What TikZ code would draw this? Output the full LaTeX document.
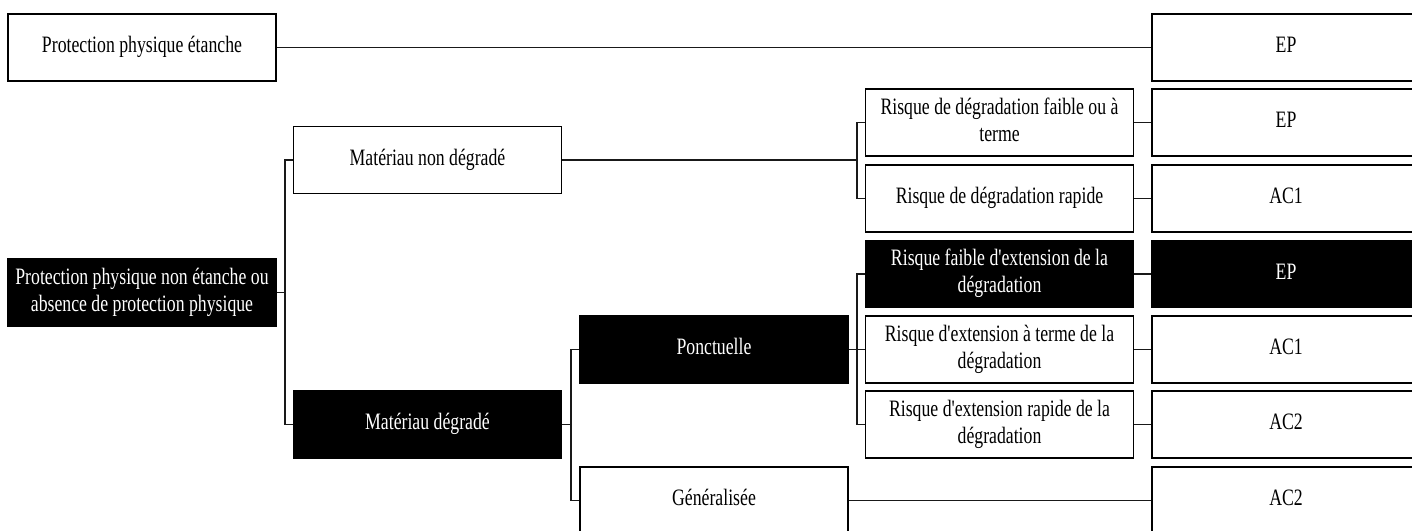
\documentclass[tikz,border=0pt]{standalone}
\usepackage{fontspec}
\setmainfont{Liberation Serif}
\newcommand\boxtxt[1]{\scalebox{0.755}[1]{\begin{tabular}{@{}c@{}}#1\end{tabular}}}
\newcommand\apos{\textquotesingle}
\begin{document}
\begin{tikzpicture}[x=1pt,y=-1pt,
  box/.style={draw=black,line width=1.3pt,fill=white,minimum width=268pt,minimum height=67pt,
    inner sep=0pt,font=\fontsize{23.5pt}{27pt}\selectfont},
  dark/.style={box,fill=black,text=white},
  link/.style={line width=1.3pt,draw=black!90}]
\useasboundingbox (0,0) rectangle (1412,530);
\clip (0,0) rectangle (1412,530);
% column 0
\node[box]  (A) at (142,47.5) {\boxtxt{Protection physique étanche}};
\node[dark] (B) at (142,292.5) {\boxtxt{Protection physique non étanche ou\\absence de protection physique}};
% column 1
\node[box]  (MND) at (427.5,160) {\boxtxt{Matériau non dégradé}};
\node[dark] (MD)  at (427.5,424.5) {\boxtxt{Matériau dégradé}};
% column 2
\node[dark] (PON) at (714,349.5) {\boxtxt{Ponctuelle}};
\node[box]  (GEN) at (714,500.5) {\boxtxt{Généralisée}};
% column 3
\node[box]  (R1) at (999.5,122.5) {\boxtxt{Risque de dégradation faible ou à\\terme}};
\node[box]  (R2) at (999.5,198.5) {\boxtxt{Risque de dégradation rapide}};
\node[dark] (R3) at (999.5,274) {\boxtxt{Risque faible d\apos{}extension de la\\dégradation}};
\node[box]  (R4) at (999.5,349.5) {\boxtxt{Risque d\apos{}extension à terme de la\\dégradation}};
\node[box]  (R5) at (999.5,424.5) {\boxtxt{Risque d\apos{}extension rapide de la\\dégradation}};
% column 4
\node[box]  (E0) at (1286,47.5) {\boxtxt{EP}};
\node[box]  (E1) at (1286,122.5) {\boxtxt{EP}};
\node[box]  (E2) at (1286,198.5) {\boxtxt{AC1}};
\node[dark] (E3) at (1286,274) {\boxtxt{EP}};
\node[box]  (E4) at (1286,349.5) {\boxtxt{AC1}};
\node[box]  (E5) at (1286,424.5) {\boxtxt{AC2}};
\node[box]  (E6) at (1286,500.5) {\boxtxt{AC2}};
% junction points
\coordinate (t1) at (285,292.5);
\coordinate (t2) at (857,160);
\coordinate (t3) at (571,424.5);
\coordinate (t4) at (857,349.5);
% connectors
\draw[link] (A.east) -- (E0.west);
\draw[link] (B.east) -- (t1);
\draw[link] (MND.west) -| (t1) |- (MD.west);
\draw[link] (MND.east) -- (t2);
\draw[link] (R1.west) -| (t2) |- (R2.west);
\draw[link] (MD.east) -- (t3);
\draw[link] (PON.west) -| (t3) |- (GEN.west);
\draw[link] (PON.east) -- (t4);
\draw[link] (R3.west) -| (t4) |- (R5.west);
\draw[link] (R4.west) -- (t4);
\draw[link] (R1.east) -- (E1.west);
\draw[link] (R2.east) -- (E2.west);
\draw[link] (R3.east) -- (E3.west);
\draw[link] (R4.east) -- (E4.west);
\draw[link] (R5.east) -- (E5.west);
\draw[link] (GEN.east) -- (E6.west);
\end{tikzpicture}
\end{document}
